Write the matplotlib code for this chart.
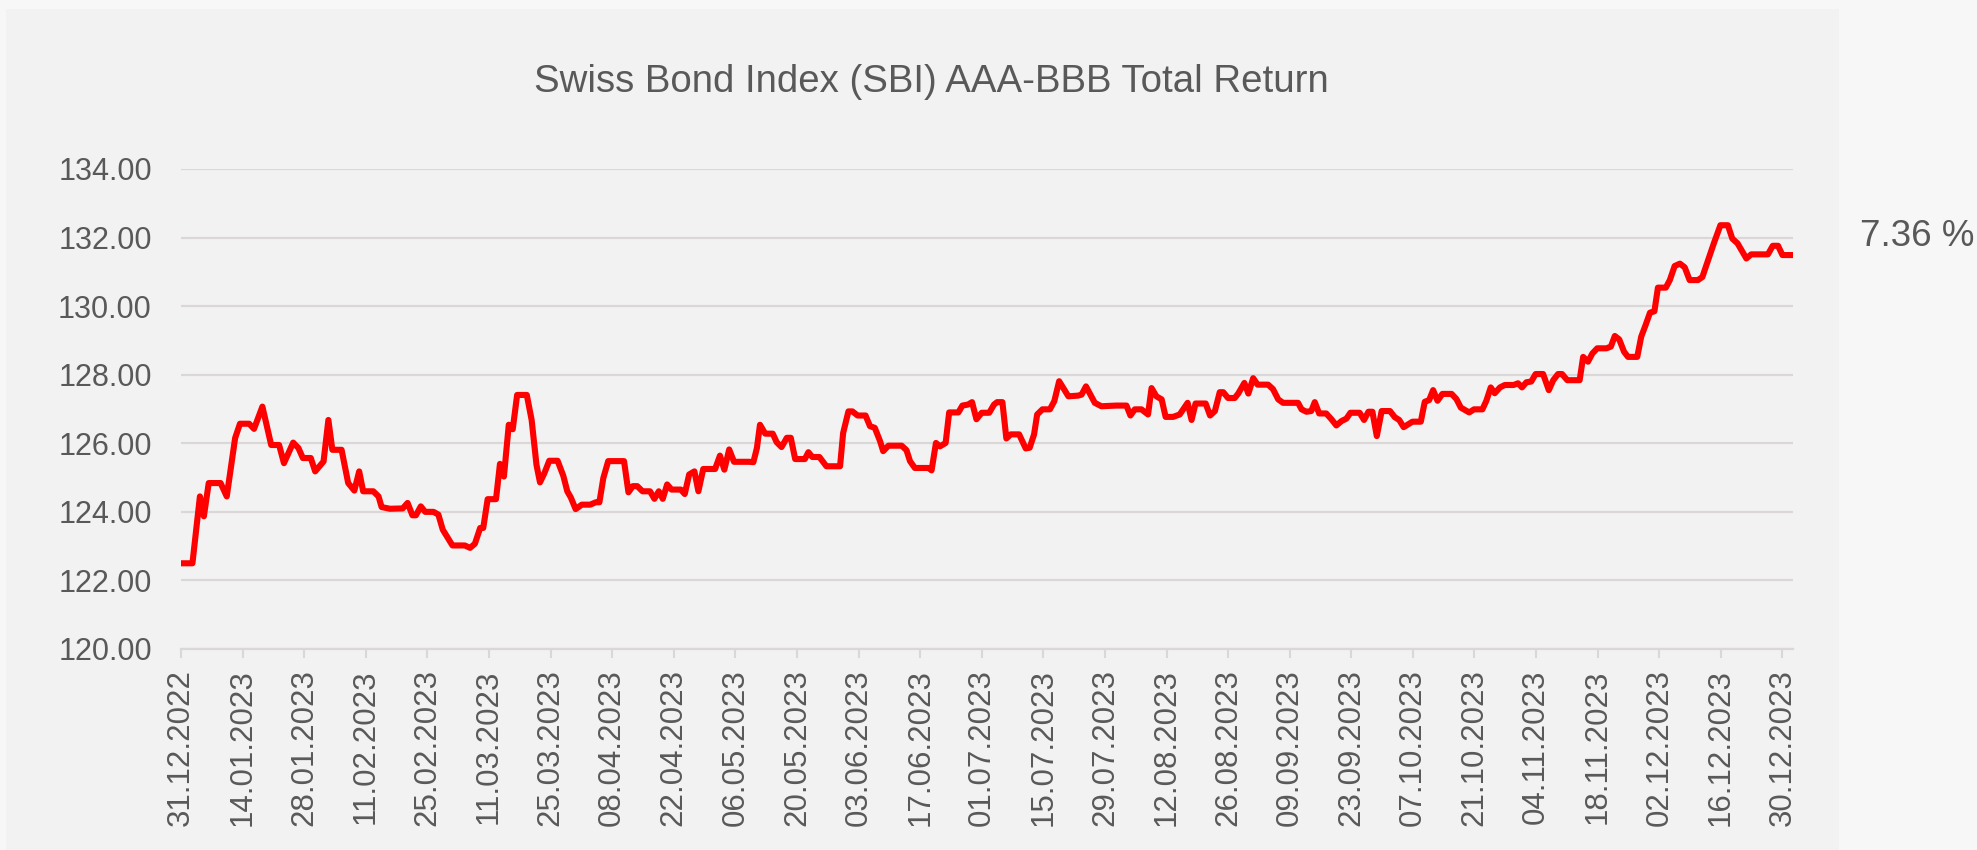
import numpy as np
import pandas as pd
import matplotlib
matplotlib.use("Agg")
import matplotlib.pyplot as plt
from matplotlib.patches import Rectangle

plt.rcParams['font.family'] = ['Liberation Sans', 'DejaVu Sans']

TITLE = 'Swiss Bond Index (SBI) AAA-BBB Total Return'
START = pd.Timestamp('2022-12-31')
PERF_LABEL = '7.36 %'

##############################################################################
# Index level, x = days since 31.12.2022
days_h1 = [0, 2.6, 4.3, 5.2, 6.3, 9.0, 10.4, 12.3, 13.4, 15.5, 16.6, 18.5, 20.5, 22.3,
           23.4, 25.5, 26.7, 27.7, 29.5, 30.5, 32.4, 33.5, 34.4, 36.5, 38.0, 39.4, 40.5,
           41.4, 43.7, 44.9, 45.6, 47.5, 50.4, 51.5, 52.6, 53.4, 54.5, 55.5, 57.4, 58.5,
           59.5, 60.4, 61.7, 64.5, 65.7, 66.8, 68.0, 68.7, 69.7, 71.6, 72.5, 73.4, 74.5,
           75.4, 76.4, 78.6, 79.7, 80.8, 81.6, 82.6, 83.7, 85.6, 86.9, 87.8, 88.6, 89.7,
           91.1, 93.0, 94.3, 95.1, 96.0, 97.1, 100.7, 101.7, 102.7, 103.7, 104.9, 106.6,
           107.6, 108.6, 109.5, 110.5, 111.5, 113.6, 114.5, 115.5, 116.7, 117.6, 118.7,
           121.4, 122.5, 123.5, 124.6, 125.7, 129.1, 130.1, 130.9, 131.6, 132.8, 134.5,
           135.4, 136.5, 137.7, 138.6, 139.6, 141.8, 142.6, 143.5, 145.1, 146.7, 149.8,
           150.5, 151.7, 152.6, 153.8, 155.6, 156.6, 157.7, 158.9, 159.6, 160.8, 163.8,
           164.9, 165.7, 166.8, 169.9, 170.6, 171.6, 172.5, 173.8, 174.6, 176.7]
vals_h1 = [122.5, 122.5, 124.45, 123.87, 124.84, 124.84, 124.45, 126.15, 126.57, 126.57,
           126.42, 127.07, 125.95, 125.95, 125.42, 126.02, 125.86, 125.57, 125.57, 125.18,
           125.47, 126.68, 125.81, 125.81, 124.84, 124.62, 125.18, 124.6, 124.6, 124.45,
           124.14, 124.09, 124.1, 124.26, 123.9, 123.9, 124.16, 124.0, 124.0, 123.92,
           123.48, 123.29, 123.02, 123.02, 122.95, 123.07, 123.53, 123.53, 124.37, 124.37,
           125.4, 125.03, 126.54, 126.41, 127.41, 127.41, 126.68, 125.37, 124.86, 125.13,
           125.49, 125.49, 125.05, 124.6, 124.42, 124.08,
           124.21, 124.21, 124.28, 124.28, 124.99, 125.48, 125.48, 124.57, 124.75, 124.75,
           124.6, 124.6, 124.38, 124.6, 124.38, 124.8, 124.65, 124.65, 124.52, 125.09,
           125.18, 124.6, 125.25, 125.25, 125.64, 125.23, 125.82, 125.46, 125.46, 125.45,
           125.86, 126.54, 126.28, 126.28, 126.03, 125.89, 126.16, 126.16, 125.54, 125.54,
           125.74, 125.6, 125.6, 125.33, 125.33, 126.3, 126.93, 126.93, 126.81, 126.81,
           126.5, 126.45, 126.06, 125.77, 125.93, 125.93, 125.8, 125.48, 125.28, 125.28,
           125.21, 126.01, 125.91, 126.01, 126.9, 126.9]

days_h2 = [177.6, 178.9, 179.8, 180.8, 182.0, 183.7, 184.8, 185.5, 186.7, 187.6, 188.6,
           190.5, 192.0, 192.9, 193.9, 194.6, 195.8, 197.5, 198.5, 199.6, 201.7, 203.9,
           204.7, 205.7, 206.7, 207.7, 209.2, 212.6, 214.9, 215.8, 216.8, 218.3, 219.8,
           220.6, 221.7, 222.9, 223.8, 225.5, 227.0, 228.8, 229.7, 230.6, 232.9, 233.9,
           235.0, 236.1, 236.9, 238.0, 239.5, 240.3, 241.7, 242.6, 243.7, 244.7, 247.1,
           248.2, 249.4, 250.5, 253.9, 254.7, 255.8, 256.9, 257.7, 258.7, 260.3, 261.5,
           262.6, 263.8, 264.9, 265.8, 267.9, 268.9, 269.9, 270.8, 271.8, 272.9, 274.8,
           275.9, 276.9, 277.9, 279.9, 281.8, 282.7, 283.7, 284.6, 285.6, 286.7, 288.8,
           289.9, 290.9, 292.8, 293.9, 295.8, 296.7, 297.7, 298.6, 299.8, 300.9, 302.9,
           303.9, 304.8, 305.8, 306.9, 307.9, 309.6, 310.9, 311.9, 313.0, 313.9, 315.1,
           317.9, 318.7, 319.8, 320.8, 321.9, 324.0, 325.0, 325.9, 326.9, 328.0, 328.9,
           331.0, 331.9, 332.9, 333.9, 334.9, 335.7, 337.5, 338.4, 339.5, 340.7, 341.8,
           342.9, 344.8, 345.8, 347.1, 348.4, 349.9, 351.6, 352.6, 353.8, 355.8, 356.9,
           360.7, 361.8, 363.0, 364.0, 366.4]
vals_h2 = [127.1, 127.13, 127.2, 126.7, 126.89, 126.89, 127.13, 127.2, 127.2, 126.14,
           126.26, 126.26, 125.85, 125.87, 126.26, 126.84, 126.99, 126.99, 127.23, 127.81,
           127.37, 127.39, 127.42, 127.66, 127.42, 127.18, 127.08, 127.1, 127.1, 126.81,
           126.99, 126.99, 126.84, 127.61, 127.37, 127.28, 126.77, 126.77, 126.84, 127.18,
           126.68, 127.16, 127.16, 126.81, 126.94, 127.49, 127.49, 127.32, 127.32, 127.45,
           127.76, 127.45, 127.9, 127.71, 127.71, 127.58, 127.28, 127.18, 127.18, 126.99,
           126.92, 126.94, 127.2, 126.87, 126.87, 126.7, 126.52, 126.65, 126.72, 126.89,
           126.89, 126.68, 126.92, 126.92, 126.21, 126.94, 126.94, 126.76, 126.68, 126.47,
           126.63, 126.63, 127.21, 127.26, 127.55, 127.24, 127.44, 127.44, 127.29, 127.04,
           126.9, 126.99, 126.99, 127.24, 127.63, 127.46, 127.63, 127.7, 127.7, 127.75,
           127.63, 127.78, 127.8, 128.02, 128.02, 127.55, 127.84, 128.02, 128.02, 127.84,
           127.84, 128.52, 128.38, 128.62, 128.77, 128.77, 128.82, 129.13, 129.03, 128.67,
           128.52, 128.52, 129.11, 129.45, 129.81, 129.85, 130.54, 130.54, 130.76, 131.17,
           131.24, 131.13, 130.76, 130.76, 130.85, 131.34, 131.83, 132.36, 132.36, 131.97,
           131.83, 131.39, 131.51, 131.51, 131.76, 131.76, 131.49, 131.49]

y_ticks = [120, 122, 124, 126, 128, 130, 132, 134]
tick_days = list(range(0, 365, 14))
tick_labels = [(START + pd.Timedelta(days=d)).strftime('%d.%m.%Y') for d in tick_days]

##############################################################################
# Plot
TXT = '#595959'
GRID = '#dcd7d7'

fig = plt.figure(figsize=(19.77, 8.5), dpi=100)
fig.patch.set_facecolor('#f7f7f7')
fig.patches.append(Rectangle((6 / 1977, 0), (1839 - 6) / 1977, 1 - 9 / 850,
                             transform=fig.transFigure, facecolor='#f2f2f2',
                             edgecolor='none', zorder=-5))

ax = fig.add_axes([181 / 1977, 1 - 649 / 850, (1793 - 181) / 1977, (649 - 169) / 850])
ax.set_zorder(2)
ax.set_facecolor('none')

x = np.array(days_h1 + days_h2)
y = np.array(vals_h1 + vals_h2)
ax.plot(x, y, color='#ff0000', lw=4.4, solid_joinstyle='round', zorder=3)

ax.set_xlim(0, 366.4)
ax.set_ylim(120, 134)
ax.set_yticks(y_ticks)
ax.set_yticklabels(['%.2f' % v for v in y_ticks])
ax.set_xticks(tick_days)
ax.set_xticklabels(tick_labels, rotation=90)

ax.grid(axis='y', color=GRID, lw=1.6)
for sp in ['top', 'right', 'left']:
    ax.spines[sp].set_visible(False)
ax.spines['bottom'].set_color(GRID)
ax.spines['bottom'].set_linewidth(1.6)
ax.tick_params(axis='y', length=0, pad=21, labelsize=22, labelcolor=TXT)
ax.tick_params(axis='x', length=6.5, width=1.5, color=GRID, pad=8,
               labelsize=22.5, labelcolor=TXT)

fig.text(931 / 1977, 1 - 92 / 850, TITLE, ha='center', va='baseline',
         fontsize=27.6, color=TXT)
fig.text(1860 / 1977, 1 - 237 / 850, PERF_LABEL, ha='left', va='center',
         fontsize=26.5, color=TXT)

fig.savefig('out.png', dpi=100, facecolor=fig.get_facecolor())
